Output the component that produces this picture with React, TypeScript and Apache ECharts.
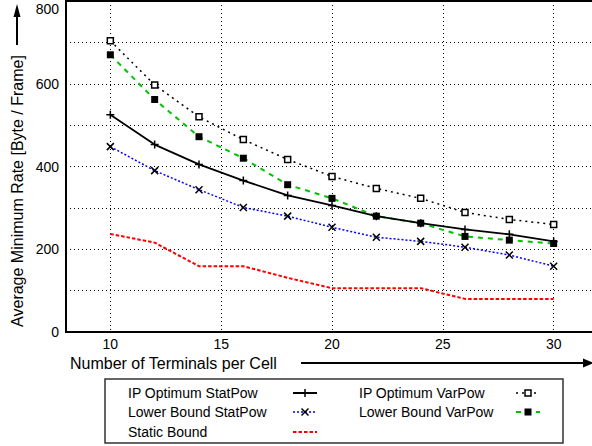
import React, { useEffect, useRef } from "react";
import * as echarts from "echarts";

const xValues = [10, 12, 14, 16, 18, 20, 22, 24, 26, 28, 30];
const ipOptimumStatPow = [525, 453, 405, 366, 330, 306, 280, 263, 248, 236, 219];
const lowerBoundStatPow = [448, 390, 344, 301, 280, 253, 229, 219, 205, 186, 159];
const ipOptimumVarPow = [704, 597, 520, 465, 417, 376, 347, 323, 289, 272, 260];
const lowerBoundVarPow = [670, 562, 472, 420, 356, 323, 280, 263, 231, 222, 214];
const staticBound = [237, 216, 159, 159, 131, 106, 106, 106, 80, 80, 80];

const seriesNames = [
  "IP Optimum StatPow",
  "Lower Bound StatPow",
  "Static Bound",
  "IP Optimum VarPow",
  "Lower Bound VarPow",
];
const xTickValues = [10, 15, 20, 25, 30];
const xTitle = "Number of Terminals per Cell";
const yTitle = "Average Minimum Rate [Byte / Frame]";

const FONT = "'Liberation Sans', Arial, Helvetica, sans-serif";
const GREEN = "#00c400";
const PLUS = "path://M0,5L10,5M5,0L5,10";
const CROSS = "path://M0,0L10,10M10,0L0,10";

function pairs(vals: number[]) {
  return xValues.map((x, i) => [x, vals[i]]);
}

export default function App() {
  const ref = useRef<HTMLDivElement>(null);
  useEffect(() => {
    if (!ref.current) return;
    const chart = echarts.init(ref.current, null, { renderer: "svg" });

    const legendRows = [393, 412, 432];
    const legendItems: any[] = [];
    const c1Text = 128, c1a = 293, c1b = 317, c1c = 305;
    const c2Text = 359, c2a = 516, c2b = 540, c2c = 528;
    const txt = (x: number, y: number, s: string) => ({
      type: "text",
      x,
      y,
      style: { text: s, font: `14px ${FONT}`, fill: "#000", verticalAlign: "middle", align: "left" },
    });
    const seg = (x1: number, x2: number, y: number, stroke: string, dash: any, w = 1.5) => ({
      type: "line",
      shape: { x1, y1: y, x2, y2: y },
      style: { stroke, lineWidth: w, lineDash: dash },
    });
    legendItems.push(
      { type: "rect", shape: { x: 105, y: 379, width: 458, height: 64 }, style: { fill: "#fff", stroke: "#333", lineWidth: 1.5 } },
      txt(c1Text, legendRows[0], seriesNames[0]),
      seg(c1a, c1b, legendRows[0], "#000", null, 2),
      { type: "line", shape: { x1: c1c, y1: legendRows[0] - 4, x2: c1c, y2: legendRows[0] + 4 }, style: { stroke: "#000", lineWidth: 1.5 } },
      txt(c1Text, legendRows[1], seriesNames[1]),
      seg(c1a, c1b, legendRows[1], "#0000ff", [2, 2]),
      { type: "line", shape: { x1: c1c - 3.5, y1: legendRows[1] - 3.5, x2: c1c + 3.5, y2: legendRows[1] + 3.5 }, style: { stroke: "#000", lineWidth: 1.5 } },
      { type: "line", shape: { x1: c1c + 3.5, y1: legendRows[1] - 3.5, x2: c1c - 3.5, y2: legendRows[1] + 3.5 }, style: { stroke: "#000", lineWidth: 1.5 } },
      txt(c1Text, legendRows[2], seriesNames[2]),
      seg(c1a, c1b, legendRows[2], "#ff0000", [3.5, 2], 2),
      txt(c2Text, legendRows[0], seriesNames[3]),
      seg(c2a, c2b, legendRows[0], "#000", [2, 4]),
      { type: "rect", shape: { x: c2c - 3, y: legendRows[0] - 3, width: 6, height: 6 }, style: { fill: "#fff", stroke: "#000", lineWidth: 1.5 } },
      txt(c2Text, legendRows[1], seriesNames[4]),
      seg(c2a, c2b, legendRows[1], GREEN, [5, 5], 2),
      { type: "rect", shape: { x: c2c - 3.5, y: legendRows[1] - 3.5, width: 7, height: 7 }, style: { fill: "#000" } }
    );

    const option: any = {
      animation: false,
      backgroundColor: "#fff",
      grid: {
        left: 66,
        top: 1,
        width: 532,
        height: 331,
        outerBoundsMode: "none",
        containLabel: false,
        show: true,
        borderColor: "#000",
        borderWidth: 2,
        backgroundColor: "transparent",
      },
      xAxis: {
        type: "value",
        min: 8,
        max: 32,
        axisLine: { show: true, onZero: false, lineStyle: { color: "#000", width: 2 } },
        axisTick: { show: false, customValues: xTickValues },
        axisLabel: {
          customValues: xTickValues,
          margin: 5,
          fontSize: 14,
          fontFamily: FONT,
          color: "#000",
        },
        splitLine: { show: true, lineStyle: { color: "#000", width: 1, type: [1, 3] } },
      },
      yAxis: {
        type: "value",
        min: 0,
        max: 800,
        interval: 100,
        axisLine: { show: true, lineStyle: { color: "#000", width: 2 } },
        axisTick: { show: false },
        axisLabel: {
          margin: 7,
          fontSize: 14,
          fontFamily: FONT,
          color: "#000",
          formatter: (v: number) => (v % 200 ? "" : v === 800 ? "{t|800}" : String(v)),
          rich: { t: { padding: [15, 0, 0, 0], fontSize: 14, fontFamily: FONT, color: "#000" } },
        },
        splitLine: { show: true, lineStyle: { color: "#000", width: 1, type: [1, 3] } },
      },
      series: [
        {
          name: seriesNames[0],
          type: "line",
          data: pairs(ipOptimumStatPow),
          symbol: PLUS,
          symbolSize: 8,
          itemStyle: { color: "#000", borderColor: "#000", borderWidth: 1.5 },
          lineStyle: { color: "#000", width: 1.8 },
          z: 5,
        },
        {
          name: seriesNames[1],
          type: "line",
          data: pairs(lowerBoundStatPow),
          symbol: CROSS,
          symbolSize: 7,
          itemStyle: { color: "#000", borderColor: "#000", borderWidth: 1.5 },
          lineStyle: { color: "#0000ff", width: 1.5, type: [2, 2] },
          z: 4,
        },
        {
          name: seriesNames[2],
          type: "line",
          data: pairs(staticBound),
          showSymbol: false,
          symbol: "none",
          lineStyle: { color: "#ff0000", width: 2, type: [3.5, 2] },
          z: 3,
        },
        {
          name: seriesNames[3],
          type: "line",
          data: pairs(ipOptimumVarPow),
          symbol: "rect",
          symbolSize: 6,
          itemStyle: { color: "#fff", borderColor: "#000", borderWidth: 1.5 },
          lineStyle: { color: "#000", width: 1.5, type: [2, 4] },
          z: 4,
        },
        {
          name: seriesNames[4],
          type: "line",
          data: pairs(lowerBoundVarPow),
          symbol: "rect",
          symbolSize: 7,
          itemStyle: { color: "#000", borderWidth: 0 },
          lineStyle: { color: GREEN, width: 2, type: [5, 5] },
          z: 4,
        },
      ],
      graphic: [
        {
          type: "text",
          x: 17,
          y: 191,
          rotation: Math.PI / 2,
          style: { text: yTitle, font: `16px ${FONT}`, fill: "#000", align: "center", verticalAlign: "middle" },
        },
        { type: "line", shape: { x1: 17, y1: 45, x2: 17, y2: 15 }, style: { stroke: "#000", lineWidth: 2 } },
        { type: "polygon", shape: { points: [[13.5, 17], [17, 4], [20.5, 17]] }, style: { fill: "#000" } },
        {
          type: "text",
          x: 70,
          y: 363,
          style: { text: xTitle, font: `16px ${FONT}`, fill: "#000", align: "left", verticalAlign: "middle" },
        },
        { type: "line", shape: { x1: 301, y1: 363, x2: 585, y2: 363 }, style: { stroke: "#000", lineWidth: 2 } },
        { type: "polygon", shape: { points: [[583, 358.5], [594, 363], [583, 367.5]] }, style: { fill: "#000" } },
        ...legendItems,
      ],
    };
    chart.setOption(option);
    return () => chart.dispose();
  }, []);
  return <div ref={ref} style={{ width: 592, height: 446, position: "absolute", left: 0, top: 0 }} />;
}
